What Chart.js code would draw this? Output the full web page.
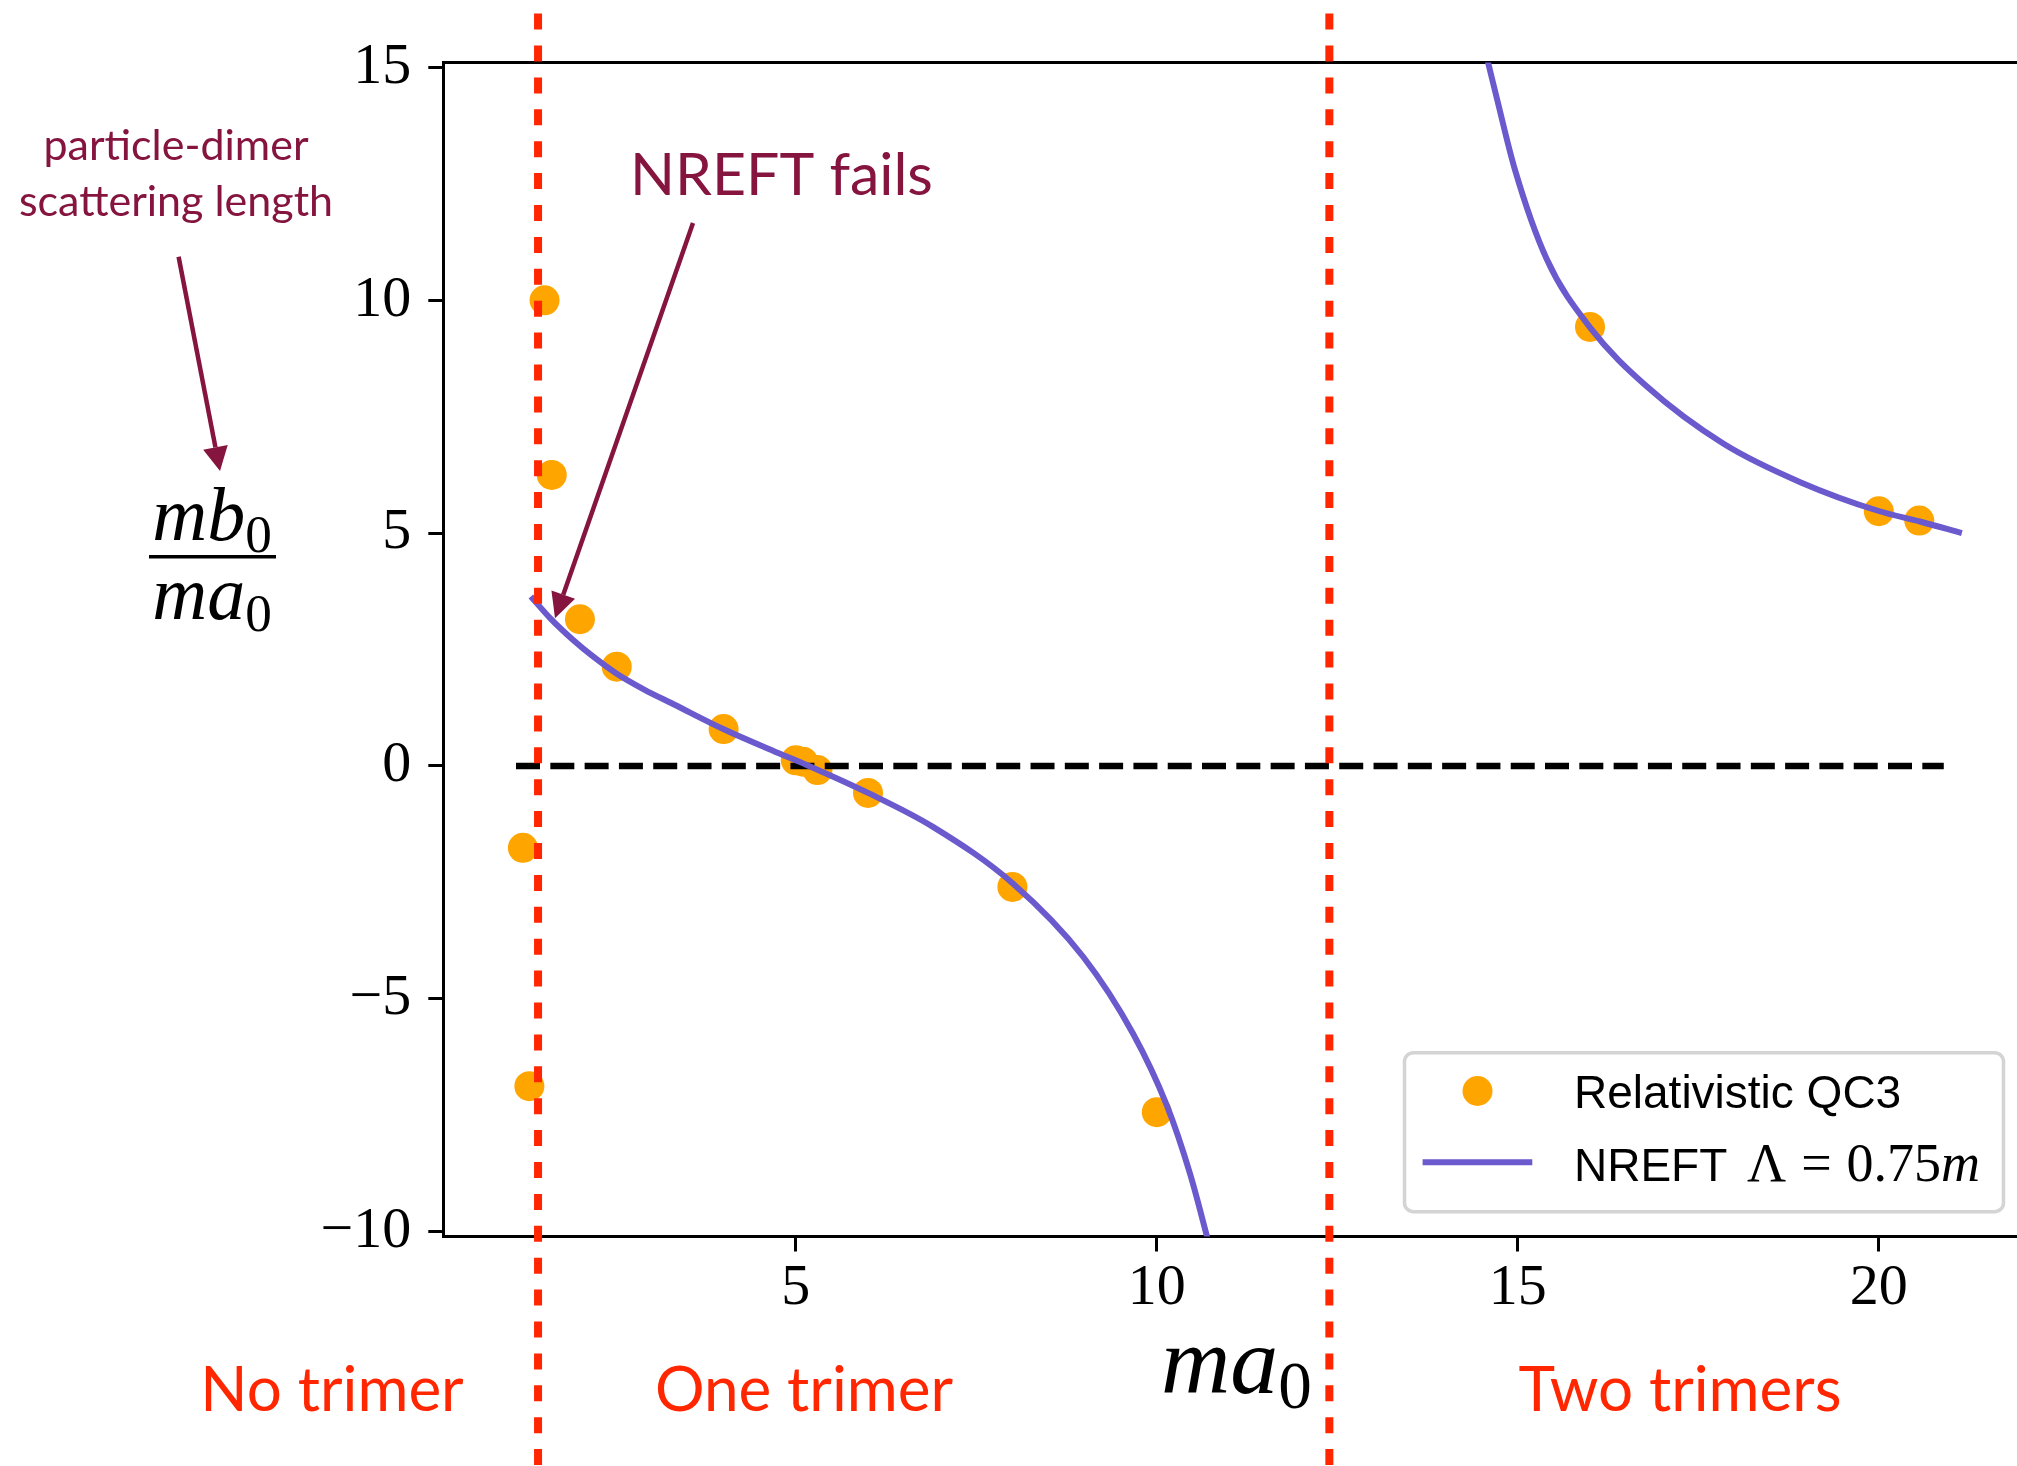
<!DOCTYPE html>
<html><head><meta charset="utf-8">
<script src="https://cdn.jsdelivr.net/npm/chart.js@4.4.1/dist/chart.umd.min.js"></script>
<style>
html,body{margin:0;padding:0;background:#fff;overflow:hidden;}
#wrap{position:relative;width:2017px;height:1466px;overflow:hidden;background:#fff;}
#c{position:absolute;left:0;top:0;}
</style></head><body>
<div id="wrap"><canvas id="c" width="2100" height="1466"></canvas></div>
<script>
// ---------------- data ----------------
const qc3X = [1.22, 1.31, 1.52, 1.62, 2.01, 2.52, 4.0, 5.0, 5.1, 5.3, 6.0, 8.0, 10.0, 16.0, 20.0, 20.56];
const qc3Y = [-1.76, -6.88, 10.0, 6.25, 3.15, 2.13, 0.79, 0.12, 0.09, -0.09, -0.58, -2.6, -7.44, 9.43, 5.47, 5.27];

const nreftLowX = [1.33, 1.60, 1.92, 2.20, 2.52, 2.90, 3.30, 4.01, 4.69, 5.15, 6.00, 6.90, 8.01, 8.98, 9.67, 10.14, 10.46, 10.69, 10.71];
const nreftLowY = [3.64, 3.17, 2.70, 2.34, 1.98, 1.64, 1.33, 0.78, 0.32, 0.02, -0.58, -1.31, -2.53, -4.10, -5.75, -7.30, -8.76, -10.08, -10.2];
const nreftHighX = [14.55, 14.59, 14.71, 14.96, 15.40, 16.01, 16.78, 17.85, 18.92, 20.01, 20.57, 21.15];
const nreftHighY = [15.35, 15.10, 14.34, 12.81, 10.89, 9.40, 8.16, 6.92, 6.09, 5.47, 5.25, 5.00];

const boundaryX = [1.43, 12.39];
const boundarySpanY = [16.16, -15.2];
const zeroLineX = [1.125, 20.9];
const zeroLineY = [0, 0];

const xTickValues = [5, 10, 15, 20];
const yTickValues = [-10, -5, 0, 5, 10, 15];
const regionLabels = ['No trimer', 'One trimer', 'Two trimers'];
const seriesLabels = ['Relativistic QC3', 'NREFT Λ = 0.75m'];

// ---------------- styles ----------------
const ORANGE = '#ffa500';
const PURPLE = '#6a5acd';
const RED = '#ff2600';
const MAROON = '#85143f';

const pts = (xs, ys) => xs.map((x, i) => ({x, y: ys[i]}));
const nreftData = pts(nreftLowX, nreftLowY).concat([{x: 12.39, y: null}], pts(nreftHighX, nreftHighY));

const minusFmt = v => (v < 0 ? '\u2212' + Math.abs(v) : String(v));

function drawMath(ctx, parts, x, y, size, family) {
  let cx = x;
  for (const p of parts) {
    const s = p.sub ? size * 0.7 : size;
    ctx.font = (p.italic ? 'italic ' : '') + s + 'px ' + family;
    const dy = p.sub ? size * 0.16 : 0;
    ctx.fillText(p.t, cx, y + dy);
    cx += ctx.measureText(p.t).width + (p.gap || 0);
  }
  return cx - x;
}
function mathWidth(ctx, parts, size, family) {
  let w = 0;
  for (const p of parts) {
    const s = p.sub ? size * 0.7 : size;
    ctx.font = (p.italic ? 'italic ' : '') + s + 'px ' + family;
    w += ctx.measureText(p.t).width + (p.gap || 0);
  }
  return w;
}
function arrow(ctx, x0, y0, x1, y1, lw, hl, hw, color) {
  const a = Math.atan2(y1 - y0, x1 - x0);
  const bx = x1 - hl * Math.cos(a), by = y1 - hl * Math.sin(a);
  ctx.strokeStyle = color; ctx.fillStyle = color; ctx.lineWidth = lw; ctx.lineCap = 'butt';
  ctx.beginPath(); ctx.moveTo(x0, y0); ctx.lineTo(bx, by); ctx.stroke();
  ctx.beginPath();
  ctx.moveTo(x1, y1);
  ctx.lineTo(bx + hw * Math.sin(a), by - hw * Math.cos(a));
  ctx.lineTo(bx - hw * Math.sin(a), by + hw * Math.cos(a));
  ctx.closePath(); ctx.fill();
}

const decorations = {
  id: 'decorations',
  afterDraw(chart) {
    const ctx = chart.ctx;
    ctx.save();
    ctx.textBaseline = 'alphabetic';
    // maroon annotation
    ctx.fillStyle = MAROON;
    ctx.textAlign = 'center';
    ctx.font = '43px Lato';
    ctx.fillText('particle-dimer', 176, 160);
    ctx.fillText('scattering length', 176, 216);
    ctx.textAlign = 'left';
    ctx.font = '59px Lato';
    ctx.fillText('NREFT fails', 630, 195);
    arrow(ctx, 178.6, 256.7, 220, 471, 4.5, 24, 12.5, MAROON);
    arrow(ctx, 693, 223, 555, 618.3, 4.5, 25, 12.5, MAROON);

    // region labels
    ctx.fillStyle = RED;
    ctx.textAlign = 'center';
    ctx.font = '62px Lato';
    ctx.fillText(regionLabels[0], 332, 1411);
    ctx.fillText(regionLabels[1], 804, 1411);
    ctx.fillText(regionLabels[2], 1680, 1411);

    // axis titles
    ctx.fillStyle = '#000';
    ctx.textAlign = 'left';
    const serif = 'Liberation Serif';
    drawMath(ctx, [{t: 'ma', italic: true}, {t: '0', sub: true}], 1161, 1393, 96, serif);
    const num = [{t: 'mb', italic: true}, {t: '0', sub: true}];
    const den = [{t: 'ma', italic: true}, {t: '0', sub: true}];
    const cxl = 212;
    const wn = mathWidth(ctx, num, 76, serif), wd = mathWidth(ctx, den, 76, serif);
    drawMath(ctx, num, cxl - wn / 2, 540, 76, serif);
    drawMath(ctx, den, cxl - wd / 2, 619, 76, serif);
    ctx.fillRect(149, 555, 127, 3.5);

    // legend
    ctx.lineWidth = 3.5;
    ctx.strokeStyle = '#d4d4d4';
    ctx.fillStyle = 'rgba(255,255,255,0.8)';
    ctx.beginPath();
    ctx.roundRect(1404.5, 1052.7, 599, 159, 9);
    ctx.fill(); ctx.stroke();
    ctx.fillStyle = ORANGE;
    ctx.beginPath(); ctx.arc(1477.5, 1091, 15, 0, Math.PI * 2); ctx.fill();
    ctx.strokeStyle = PURPLE; ctx.lineWidth = 6;
    ctx.beginPath(); ctx.moveTo(1422.6, 1162.3); ctx.lineTo(1532.3, 1162.3); ctx.stroke();
    ctx.fillStyle = '#000';
    ctx.font = '46px "Liberation Sans"';
    ctx.fillText(seriesLabels[0], 1574, 1108);
    ctx.fillText('NREFT', 1574, 1181);
    drawMath(ctx, [{t: 'Λ', gap: 15}, {t: '=', gap: 15}, {t: '0.75'}, {t: 'm', italic: true}], 1747, 1181, 54, serif);
    ctx.restore();
  }
};

const X_MIN = 0.1177, X_MAX = 22.6;
const Y_MIN = -10.11, Y_MAX = 15.11;

new Chart(document.getElementById('c'), {
  type: 'scatter',
  data: {
    datasets: [
      {
        label: seriesLabels[0],
        data: pts(qc3X, qc3Y),
        pointRadius: 15, pointHoverRadius: 15,
        pointBackgroundColor: ORANGE, pointBorderWidth: 0, backgroundColor: ORANGE,
        showLine: false, order: 4
      },
      {
        label: 'zero',
        data: pts(zeroLineX, zeroLineY),
        showLine: true, pointRadius: 0, borderColor: '#000', borderWidth: 6.5,
        borderDash: [24, 10.3], order: 3
      },
      {
        label: seriesLabels[1],
        data: nreftData,
        showLine: true, pointRadius: 0, borderColor: PURPLE, borderWidth: 6,
        cubicInterpolationMode: 'monotone', spanGaps: false, order: 2
      },
      {
        label: 'boundary1',
        data: pts([boundaryX[0], boundaryX[0]], boundarySpanY),
        showLine: true, pointRadius: 0, borderColor: RED, borderWidth: 8,
        borderDash: [16, 15.9], clip: false, order: 1
      },
      {
        label: 'boundary2',
        data: pts([boundaryX[1], boundaryX[1]], boundarySpanY),
        showLine: true, pointRadius: 0, borderColor: RED, borderWidth: 8,
        borderDash: [16, 15.9], clip: false, order: 1
      }
    ]
  },
  options: {
    responsive: false,
    animation: false,
    devicePixelRatio: 1,
    events: [],
    layout: {padding: {left: 0, top: 62.5, right: 2100 - (434.8 + 72.2 * X_MAX), bottom: 0}},
    plugins: {legend: {display: false}, tooltip: {enabled: false}},
    scales: {
      x: {
        type: 'linear', position: 'bottom', min: X_MIN, max: X_MAX,
        afterBuildTicks: s => { s.ticks = xTickValues.map(v => ({value: v})); },
        afterFit: s => { s.height = 1466 - 1236.5; },
        ticks: {font: {family: 'Liberation Serif', size: 58}, color: '#000', padding: 2, maxRotation: 0, autoSkip: false,
                callback: v => minusFmt(v)},
        grid: {display: true, drawOnChartArea: false, drawTicks: true, tickLength: 15, tickWidth: 3, tickColor: '#000'},
        border: {display: true, width: 3, color: '#000'}
      },
      xTop: {
        type: 'linear', position: 'top', min: X_MIN, max: X_MAX,
        afterFit: s => { s.height = 0; },
        ticks: {display: false},
        grid: {display: false, drawTicks: false},
        border: {display: true, width: 3, color: '#000'}
      },
      y: {
        type: 'linear', position: 'left', min: Y_MIN, max: Y_MAX,
        afterBuildTicks: s => { s.ticks = yTickValues.map(v => ({value: v})); },
        afterFit: s => { s.width = 443.3; },
        ticks: {font: {family: 'Liberation Serif', size: 58}, color: '#000', padding: 17, autoSkip: false,
                callback: v => minusFmt(v)},
        grid: {display: true, drawOnChartArea: false, drawTicks: true, tickLength: 15, tickWidth: 3, tickColor: '#000'},
        border: {display: true, width: 3, color: '#000'}
      }
    }
  },
  plugins: [decorations]
});
</script>
</body></html>
